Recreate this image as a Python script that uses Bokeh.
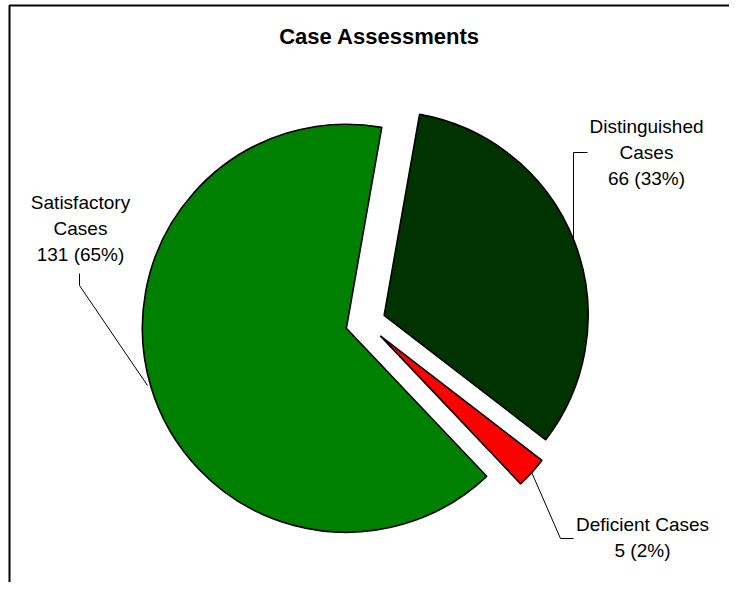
import math
from bokeh.plotting import figure
from bokeh.models import Range1d
from bokeh.core.properties import value
from bokeh.embed import file_html
from bokeh.resources import INLINE

# ---- data ----
categories = ["Distinguished Cases", "Deficient Cases", "Satisfactory Cases"]
counts = [66, 5, 131]
colors = ["#003300", "#FF0000", "#008000"]
label_words = [["Distinguished", "Cases"], ["Deficient Cases"], ["Satisfactory", "Cases"]]
title_text = "Case Assessments"

# ---- layout (pixels, y down) ----
W, H = 729, 582
CX, CY = 365, 322          # pie centre
R = 204                    # radius
EXPLODE = 20               # explosion distance
FIRST_ANGLE = 10           # degrees clockwise from 12 o'clock
FONT = "Liberation Sans"

def dy(y):  # pixel y (down) -> data y (up)
    return H - y

p = figure(width=W, height=H, x_range=Range1d(0, W), y_range=Range1d(0, H),
           min_border=0, output_backend="svg", toolbar_location=None)
p.axis.visible = False
p.grid.visible = False
p.outline_line_color = None
p.background_fill_color = "white"
p.border_fill_color = "white"

# chart border (top & left visible, rest cut off as in the reference)
p.line(x=[9, 9, W + 10], y=[-10, dy(5), dy(5)], line_color="black", line_width=2)

total = sum(counts)
xs, ys, starts, ends, mids = [], [], [], [], []
cum = 0
for c in counts:
    t1 = FIRST_ANGLE + cum / total * 360
    t2 = t1 + c / total * 360
    mid = math.radians((t1 + t2) / 2)
    xs.append(CX + EXPLODE * math.sin(mid))
    ys.append(dy(CY) + EXPLODE * math.cos(mid))
    starts.append(math.radians(90 - t2))
    ends.append(math.radians(90 - t1))
    mids.append(mid)
    cum += c

p.wedge(x=xs, y=ys, radius=R, start_angle=starts, end_angle=ends,
        direction="anticlock", fill_color=colors, line_color="black", line_width=1.6)

# title
p.text(x=[379], y=[dy(36)], text=[title_text], text_font=value(FONT),
       text_font_size="22px", text_font_style="bold", text_align="center",
       text_baseline="middle", text_color="black")

# labels
pct = [f"{c} ({round(c / total * 100)}%)" for c in counts]
label_pos = [(646, 126), (642, 524), (80, 202)]
lx, ly, lt = [], [], []
for words, pc, (x0, y0) in zip(label_words, pct, label_pos):
    lines = words + [pc]
    for k, t in enumerate(lines):
        lx.append(x0)
        ly.append(dy(y0 + 26 * k))
        lt.append(t)
p.text(x=lx, y=ly, text=lt, text_font=value(FONT), text_font_size="19px",
       text_align="center", text_baseline="middle", text_color="black")

# leader lines
# Distinguished: vertical line meets the arc of slice 0
vx = 573
dxv = vx - xs[0]
ye = ys[0] + math.sqrt(R * R - dxv * dxv)
p.line(x=[587, vx, vx], y=[dy(152), dy(152), ye], line_color="black", line_width=1)
# Deficient: from middle of outer arc of slice 1
ax = xs[1] + R * math.sin(mids[1])
ay = ys[1] + R * math.cos(mids[1])
p.line(x=[ax, 560, 573], y=[ay, dy(538), dy(538)], line_color="black", line_width=1)
# Satisfactory
p.line(x=[79, 79, 147], y=[dy(273), dy(285), dy(385)], line_color="black", line_width=1)

open("out.html", "w").write(file_html(p, INLINE))
